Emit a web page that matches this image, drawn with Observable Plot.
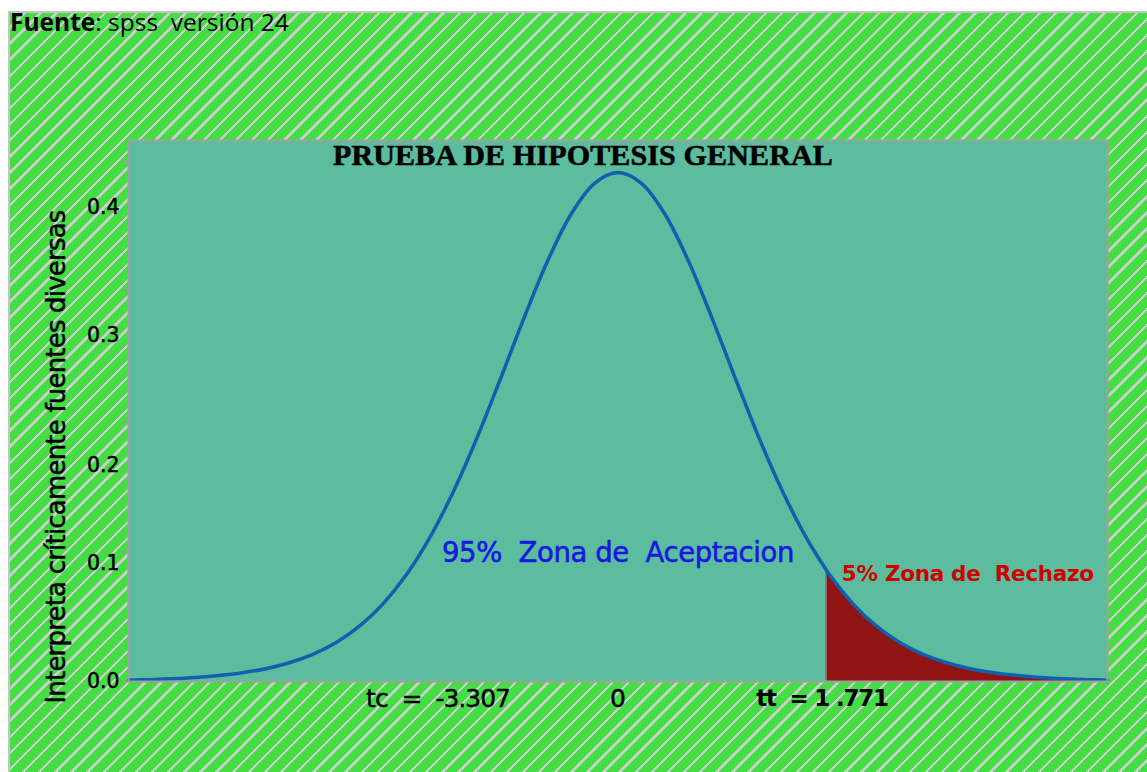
<!DOCTYPE html>
<html>
<head>
<meta charset="utf-8">
<script src="https://cdn.jsdelivr.net/npm/d3@7"></script>
<script src="https://cdn.jsdelivr.net/npm/@observablehq/plot@0.6"></script>
<style>
html, body { margin: 0; padding: 0; background: #fff; }
#wrap { position: relative; width: 1147px; height: 772px; overflow: hidden; }
#hatch {
  position: absolute; left: 8px; top: 11px; right: 0; bottom: 0;
  border-top: 2px solid #c4c4c4; border-left: 2px solid #c4c4c4;
  background: repeating-linear-gradient(135deg, #44dd44 0px, #44dd44 9.0px, #cdcdcd 9.0px, #cdcdcd 11.4px);
}
#chart { position: absolute; left: 0; top: 0; }
#fuente { position: absolute; left: 10px; top: 5px; font-family: "Open Sans"; font-size: 24.5px; color: #000; white-space: pre; }
</style>
</head>
<body>
<div id="wrap">
  <div id="hatch"></div>
  <div id="chart"></div>
  <div id="fuente"><b>Fuente</b>: spss  versión 24</div>
</div>
<script>
// t values (x) and density
const tValues = [-4.17, -4.0, -3.8, -3.6, -3.4, -3.2, -3.0, -2.8, -2.6, -2.4, -2.2, -2.0, -1.8, -1.6, -1.4, -1.2, -1.0, -0.8, -0.6, -0.4, -0.2,
  0, 0.2, 0.4, 0.6, 0.8, 1.0, 1.2, 1.4, 1.6, 1.771, 1.8, 2.0, 2.2, 2.4, 2.6, 2.8, 3.0, 3.2, 3.4, 3.6, 3.8, 4.0, 4.17];
const density = [0.00103, 0.00142, 0.00210, 0.00309, 0.00456, 0.00671, 0.00985, 0.0144, 0.0209, 0.0300, 0.0427, 0.0599, 0.0824, 0.1112, 0.1465, 0.1876, 0.2330, 0.2796, 0.3233, 0.3593, 0.3831,
  0.3914, 0.3831, 0.3593, 0.3233, 0.2796, 0.2330, 0.1876, 0.1465, 0.1112, 0.0862, 0.0824, 0.0599, 0.0427, 0.0300, 0.0209, 0.0144, 0.00985, 0.00671, 0.00456, 0.00309, 0.00210, 0.00142, 0.00103];
const tCritical = 1.771;
const densityAtCritical = 0.0862;

// y axis ticks and their labels (labels sit where the picture shows them)
const yTicks = [0, 0.1, 0.2, 0.3, 0.4];
const yTickLabels = ["0.0", "0.1", "0.2", "0.3", "0.4"];
const yLabelAt = [0, 0.0908, 0.1662, 0.2662, 0.3646];

// x annotations under the axis
const tcLabel = "tc  =  -3.307", tcAt = -1.533;
const zeroLabel = "0", zeroAt = 0;
const ttLabel = "tt  = 1 .771", ttAt = 1.738;

// zone labels
const acceptLabel = "95%  Zona de  Aceptacion", acceptX = 0, acceptY = 0.0988;
const rejectLabel = "5% Zona de  Rechazo", rejectX = 2.98, rejectY = 0.0827;

const title = "PRUEBA DE HIPOTESIS GENERAL";
const yTitle = "Interpreta críticamente fuentes diversas";

const points = tValues.map((t, i) => ({t, d: density[i]}));
const tail = points.filter(p => p.t >= tCritical);

const plot = Plot.plot({
  width: 1147, height: 772,
  marginLeft: 128, marginRight: 40, marginTop: 140, marginBottom: 91,
  style: {background: "transparent", fontFamily: "DejaVu Sans", color: "#000"},
  x: {domain: [-4.17, 4.17], axis: null},
  y: {domain: [0, 0.416]},
  marks: [
    Plot.frame({fill: "#5bbd9d"}),
    Plot.areaY(tail, {x: "t", y: "d", fill: "#911414", curve: "catmull-rom"}),
    Plot.ruleX([tCritical], {y1: 0, y2: densityAtCritical, stroke: "#8a8a8a", strokeWidth: 1.5}),
    Plot.lineY(points, {x: "t", y: "d", stroke: "#1160b0", strokeWidth: 3.5, curve: "catmull-rom"}),
    Plot.axisY({ticks: yTicks, tickSize: 6, tickFormat: () => "", label: null, stroke: "#9a9a9a", strokeWidth: 1.5}),
    Plot.text(yTickLabels, {y: yLabelAt, text: d => d, frameAnchor: "left", textAnchor: "end", lineAnchor: "middle", dx: -9, fontSize: 20.5, fill: "#000", stroke: "#000", strokeWidth: 0.5}),
    Plot.text([tcLabel], {x: [tcAt], y: [0], text: d => d, dy: 17, lineAnchor: "middle", fontSize: 25, fill: "#000", stroke: "#000", strokeWidth: 0.4}),
    Plot.text([zeroLabel], {x: [zeroAt], y: [0], text: d => d, dy: 17, lineAnchor: "middle", fontSize: 25, fill: "#000", stroke: "#000", strokeWidth: 0.4}),
    Plot.text([ttLabel], {x: [ttAt], y: [0], text: d => d, dy: 17, lineAnchor: "middle", fontSize: 23, fontWeight: "bold", fill: "#000"}),
    Plot.text([acceptLabel], {x: [acceptX], y: [acceptY], text: d => d, lineAnchor: "middle", fontSize: 27.5, fill: "#1818e0", stroke: "#1818e0", strokeWidth: 0.6}),
    Plot.text([rejectLabel], {x: [rejectX], y: [rejectY], text: d => d, lineAnchor: "middle", fontSize: 21.5, fontWeight: "bold", fill: "#d00000"}),
    Plot.text([title], {text: d => d, frameAnchor: "top", lineAnchor: "top", dx: -35, dy: 3, fontSize: 30, fontWeight: "bold", fontFamily: "Liberation Serif", fill: "#000", stroke: "#000", strokeWidth: 0.6}),
    Plot.text([yTitle], {text: d => d, frameAnchor: "left", textAnchor: "middle", rotate: -90, lineAnchor: "middle", dx: -72, dy: 46, fontSize: 26, fill: "#000", stroke: "#000", strokeWidth: 0.5}),
    Plot.frame({stroke: "#a0a0a0", strokeWidth: 2})
  ]
});
document.getElementById("chart").appendChild(plot);

const svg = d3.select(plot);
function spacing(prefix, px) {
  svg.selectAll("text").filter(function () { return this.textContent.startsWith(prefix); }).style("letter-spacing", px);
}
spacing("PRUEBA", "0.15px");
spacing("Interpreta", "-0.8px");
spacing("95%", "-0.4px");
spacing("5% Zona", "-0.3px");
spacing("tc", "-1px");
spacing("tt", "-1.2px");
</script>
</body>
</html>
